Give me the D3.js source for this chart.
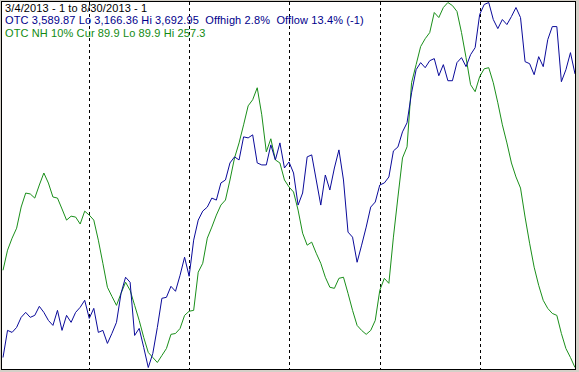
<!DOCTYPE html>
<html>
<head>
<meta charset="utf-8">
<script src="https://cdn.jsdelivr.net/npm/d3@7"></script>
<style>
  body { margin: 0; background: #d4d0c8; }
  svg { display: block; }
  text { font-family: "Liberation Sans", Arial, sans-serif; font-size: 11px; letter-spacing: 0.12px; white-space: pre; }
</style>
</head>
<body>
<svg id="chart" width="579" height="372"></svg>
<script>
// daily closes, 3/4/2013 .. 8/30/2013 (127 trading days)
const otc = [
  3180.8, 3219.9, 3217.0, 3224.2, 3238.7, 3245.9, 3238.7, 3241.6, 3254.6, 3245.9,
  3234.3, 3227.1, 3248.8, 3219.9, 3241.6, 3231.5, 3245.9, 3253.2, 3263.3, 3237.2,
  3251.7, 3217.0, 3219.9, 3201.1, 3215.6, 3231.5, 3273.4, 3296.6, 3289.3, 3212.6,
  3222.8, 3195.3, 3166.36, 3186.6, 3224.2, 3266.2, 3267.6, 3283.5, 3276.3, 3299.4,
  3325.5, 3298.0, 3350.1, 3379.0, 3392.0, 3397.8, 3410.8, 3407.9, 3432.6, 3436.9,
  3461.5, 3470.2, 3465.8, 3499.1, 3497.6, 3502.0, 3461.5, 3458.6, 3458.6, 3487.5,
  3465.8, 3490.4, 3454.2, 3462.9, 3447.0, 3400.7, 3418.1, 3470.2, 3473.1, 3436.9,
  3400.7, 3444.1, 3422.4, 3454.2, 3480.3, 3436.9, 3361.7, 3354.4, 3318.2, 3342.9,
  3368.9, 3397.8, 3405.1, 3429.7, 3432.6, 3441.2, 3478.8, 3484.6, 3506.3, 3519.4,
  3562.7, 3596.0, 3606.2, 3598.9, 3609.0, 3612.0, 3587.3, 3603.3, 3580.1, 3580.1,
  3606.2, 3613.4, 3600.4, 3617.7, 3627.8, 3675.6, 3690.1, 3692.95, 3668.4, 3655.3,
  3668.4, 3661.1, 3672.7, 3685.7, 3671.2, 3607.6, 3604.7, 3588.8, 3614.8, 3600.4,
  3639.4, 3658.2, 3658.2, 3578.7, 3596.0, 3620.6, 3589.87
];

// OTC new highs 10% indicator
const nh = [
  134.5, 143.7, 149.2, 153.8, 163.5, 169.9, 169.5, 167.6, 173.6, 179.1,
  174.5, 168.1, 167.6, 162.6, 157.5, 159.3, 158.9, 155.7, 161.6, 159.8,
  157.5, 148.3, 137.7, 126.7, 122.5, 118.4, 123.9, 129.0, 125.3, 118.4,
  111.5, 103.7, 96.8, 94.5, 92.2, 95.4, 98.6, 105.1, 105.5, 107.8,
  113.8, 115.7, 116.1, 133.6, 137.7, 149.2, 154.3, 159.8, 164.4, 166.7,
  175.9, 186.0, 192.9, 201.2, 209.9, 212.7, 218.2, 205.8, 188.8, 194.8,
  185.1, 183.7, 175.9, 172.7, 170.4, 162.1, 151.5, 146.0, 147.4, 142.3,
  137.7, 131.3, 126.7, 126.2, 130.8, 131.3, 123.9, 116.1, 109.2, 106.9,
  105.1, 106.9, 111.5, 125.3, 130.8, 128.5, 149.7, 168.1, 186.0, 191.1,
  220.5, 228.8, 237.1, 240.7, 243.5, 252.7, 250.4, 255.0, 257.3, 255.9,
  253.2, 243.5, 232.0, 219.6, 216.4, 223.3, 226.9, 227.4, 220.5, 211.3,
  201.2, 192.9, 183.7, 177.3, 172.2, 158.9, 146.9, 135.9, 127.6, 120.7,
  117.0, 114.7, 113.8, 105.5, 98.6, 94.5, 89.9
];

// first trading day of each month: Apr 1, May 1, Jun 3, Jul 1, Aug 1
const monthStarts = [19, 41, 63, 83, 105];

const headerLines = [
  {text: '3/4/2013 - 1 to 8/30/2013 - 1', color: '#000000'},
  {text: 'OTC 3,589.87 Lo 3,166.36 Hi 3,692.95  Offhigh 2.8%  Offlow 13.4% (-1)', color: '#00008b'},
  {text: 'OTC NH 10% Cur 89.9 Lo 89.9 Hi 257.3', color: '#128a12'}
];

const svg = d3.select('#chart');

svg.append('rect')
  .attr('x', 1.5).attr('y', 1.5)
  .attr('width', 574).attr('height', 368)
  .attr('fill', '#fff').attr('stroke', '#000');

svg.append('clipPath').attr('id', 'plot')
  .append('rect').attr('x', 2).attr('y', 2).attr('width', 573).attr('height', 367);

const x = d3.scaleLinear().domain([0, otc.length - 1]).range([3, 575]);
const yOtc = d3.scaleLinear().domain(d3.extent(otc)).range([367.5, 2.5]);
const yNh = d3.scaleLinear().domain(d3.extent(nh)).range([367.5, 2.5]);

const g = svg.append('g').attr('clip-path', 'url(#plot)');

g.selectAll('line.month')
  .data(monthStarts)
  .join('line')
  .attr('class', 'month')
  .attr('x1', d => Math.round(x(d)) + 0.5)
  .attr('x2', d => Math.round(x(d)) + 0.5)
  .attr('y1', 2).attr('y2', 369)
  .attr('stroke', '#000')
  .attr('stroke-dasharray', '3,3');

g.append('path')
  .datum(nh)
  .attr('fill', 'none')
  .attr('stroke', '#1a8f1a')
  .attr('stroke-width', 1)
  .attr('d', d3.line().x((d, i) => x(i)).y(d => yNh(d)));

g.append('path')
  .datum(otc)
  .attr('fill', 'none')
  .attr('stroke', '#0a0a9a')
  .attr('stroke-width', 1)
  .attr('d', d3.line().x((d, i) => x(i)).y(d => yOtc(d)));

svg.selectAll('text.hdr')
  .data(headerLines)
  .join('text')
  .attr('class', 'hdr')
  .attr('x', 5)
  .attr('y', (d, i) => 11.5 + i * 12.5)
  .attr('fill', d => d.color)
  .text(d => d.text);
</script>
</body>
</html>
